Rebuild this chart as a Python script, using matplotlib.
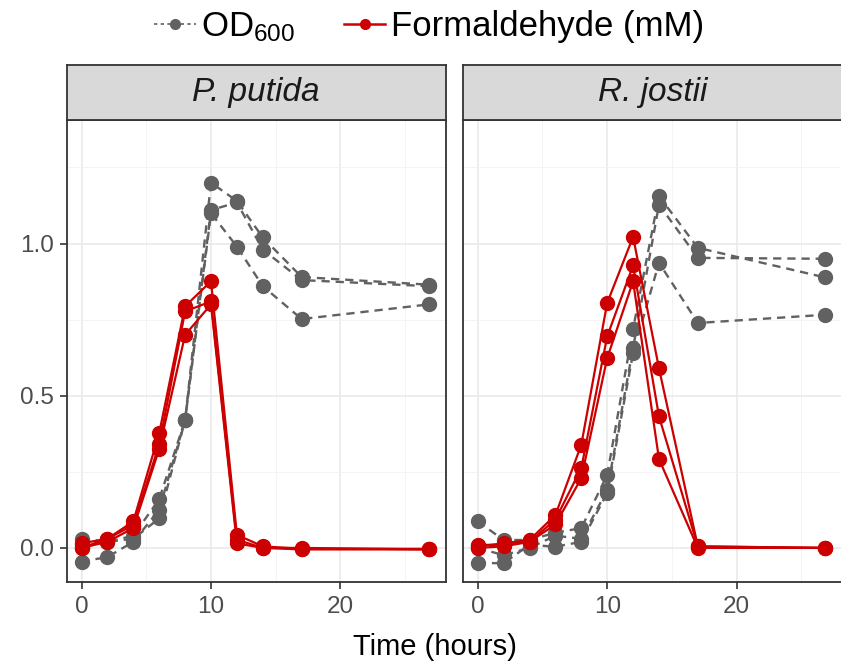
import matplotlib
matplotlib.use("Agg")
import matplotlib.pyplot as plt
from matplotlib.lines import Line2D

plt.rcParams['font.family'] = ['Liberation Sans', 'DejaVu Sans']
plt.rcParams['mathtext.default'] = 'regular'

# sampling times (hours)
time = [0, 2, 4, 6, 8, 10, 12, 14, 17, 26.8]

# P. putida, three replicates
pp_od_1 = [0.03, 0.02, 0.04, 0.16, 0.42, 1.20, 1.14, 1.02, 0.89, 0.865]
pp_od_2 = [-0.045, -0.03, 0.02, 0.125, 0.42, 1.11, 1.135, 0.98, 0.88, 0.86]
pp_od_3 = [0.01, 0.02, 0.03, 0.097, 0.42, 1.10, 0.99, 0.86, 0.752, 0.80]
pp_fa_1 = [0.0, 0.03, 0.087, 0.377, 0.794, 0.876, 0.043, 0.005, -0.003, -0.003]
pp_fa_2 = [0.015, 0.03, 0.075, 0.34, 0.777, 0.81, 0.027, 0.0, 0.0, -0.005]
pp_fa_3 = [0.0, 0.02, 0.065, 0.325, 0.70, 0.80, 0.015, 0.0, -0.005, -0.005]

# R. jostii, three replicates
rj_od_1 = [0.087, 0.026, 0.026, 0.05, 0.065, 0.24, 0.72, 1.156, 0.986, 0.889]
rj_od_2 = [0.0, -0.024, 0.0, 0.04, 0.03, 0.19, 0.657, 1.128, 0.953, 0.95]
rj_od_3 = [-0.05, -0.05, 0.01, 0.004, 0.02, 0.18, 0.64, 0.937, 0.739, 0.766]
rj_fa_1 = [0.005, 0.015, 0.026, 0.108, 0.339, 0.805, 1.022, 0.59, 0.005, 0.0]
rj_fa_2 = [0.01, 0.01, 0.02, 0.093, 0.262, 0.695, 0.928, 0.432, 0.005, 0.0]
rj_fa_3 = [0.0, 0.005, 0.02, 0.077, 0.229, 0.624, 0.876, 0.292, 0.0, 0.0]

panels = [
    ("P. putida", [pp_od_1, pp_od_2, pp_od_3], [pp_fa_1, pp_fa_2, pp_fa_3]),
    ("R. jostii", [rj_od_1, rj_od_2, rj_od_3], [rj_fa_1, rj_fa_2, rj_fa_3]),
]

grey = "#616161"
red = "#CC0000"
W, H = 841, 668

fig = plt.figure(figsize=(W / 100, H / 100), dpi=100)

lefts = [66.5, 462.7]
pw = 379.5
top_px, bot_px, strip_top = 120, 582.3, 64.7

for i, (name, ods, fas) in enumerate(panels):
    ax = fig.add_axes([lefts[i] / W, 1 - bot_px / H, pw / W, (bot_px - top_px) / H])
    for od in ods:
        ax.plot(time, od, color=grey, lw=1.7, ls=(0, (3.5, 2.5)), marker='o', ms=10, zorder=3)
    for fa in fas:
        ax.plot(time, fa, color=red, lw=1.6, marker='o', ms=10, zorder=4)
    ax.set_xlim(-1.16, 28.15)
    ax.set_ylim(-0.113, 1.406)
    ax.set_xticks([0, 10, 20])
    ax.set_xticks([5, 15, 25], minor=True)
    ax.set_yticks([0, 0.5, 1.0])
    ax.set_yticks([0.25, 0.75, 1.25], minor=True)
    ax.grid(which='major', color='#E8E8E8', lw=1.1, zorder=0)
    ax.grid(which='minor', color='#F2F2F2', lw=0.6, zorder=0)
    ax.tick_params(which='minor', length=0)
    ax.tick_params(which='major', length=5, width=1.2, color='#333333',
                   labelsize=17.5, labelcolor='#4D4D4D', pad=4)
    ax.tick_params(axis='x', pad=5)
    if i == 0:
        ax.set_yticklabels(["0.0", "0.5", "1.0"])
    else:
        ax.tick_params(axis='y', length=0, labelleft=False)
    for s in ax.spines.values():
        s.set_color('#333333')
        s.set_linewidth(1.3)

    sax = fig.add_axes([lefts[i] / W, 1 - top_px / H, pw / W, (top_px - strip_top) / H])
    sax.set_xticks([])
    sax.set_yticks([])
    sax.set_facecolor('#D9D9D9')
    for s in sax.spines.values():
        s.set_color('#333333')
        s.set_linewidth(1.3)
    sax.text(0.5, 0.5, name, transform=sax.transAxes, ha='center', va='center',
             fontsize=24, style='italic', color='#1A1A1A')

fig.text(435 / W, 1 - 655 / H, "Time (hours)", ha='center', va='baseline',
         fontsize=21, color='black')

handles = [
    Line2D([], [], color=grey, lw=1.2, ls=(0, (2, 2)), marker='o', ms=7),
    Line2D([], [], color=red, lw=1.8, marker='o', ms=7),
]
fig.legend(handles, ["OD$_{600}$", "Formaldehyde (mM)"], loc='center',
           bbox_to_anchor=(429 / W, 1 - 27 / H), ncol=2, frameon=False,
           fontsize=25, handlelength=1.2, handletextpad=0.15, columnspacing=1.4,
           borderpad=0, borderaxespad=0)

fig.savefig("out.png", dpi=100)
